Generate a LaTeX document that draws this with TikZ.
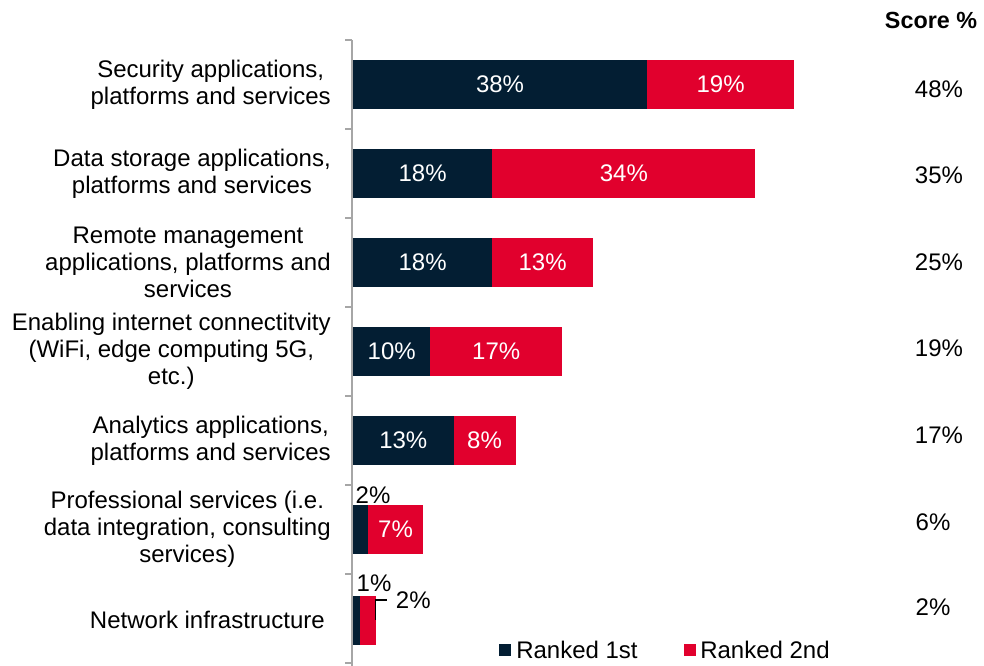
\documentclass[tikz,border=0pt]{standalone}
\usepackage{fontspec}
\setmainfont{Liberation Sans}
\definecolor{navy}{HTML}{031E33}
\definecolor{crim}{HTML}{E1002D}
\definecolor{axisgray}{HTML}{A6A6A6}
\tikzset{
  barbase/.style={rectangle, inner sep=0pt, outer sep=0pt, minimum height=36.75pt, anchor=west, text=white},
  firstbar/.style={barbase, fill=navy},
  secondbar/.style={barbase, fill=crim},
  catlabel/.style={anchor=east, align=center, inner sep=0pt},
  scorelabel/.style={inner sep=0pt},
  outlabel/.style={inner sep=0pt, text=black},
  legsq/.style={rectangle, inner sep=0pt, minimum size=9pt},
  legtext/.style={anchor=west, inner sep=0pt},
}
\begin{document}
\begin{tikzpicture}[x=0.75pt,y=-0.75pt, font=\fontsize{18}{20.3}\selectfont]
\useasboundingbox (0,0) rectangle (984,666);
% axis
\draw[axisgray, line width=1.1pt] (352,40) -- (352,666);
\foreach \k in {0,...,7}{
  \draw[axisgray, line width=1.1pt] (345,40+89*\k) -- (352,40+89*\k);
}
% main bars
\foreach \i/\a/\b in {1/38/19, 2/18/34, 3/18/13, 4/10/17, 5/13/8}{
  \pgfmathsetmacro\yc{84.5+89*(\i-1)}
  \pgfmathsetmacro\wa{\a*7.74*0.75}
  \pgfmathsetmacro\wb{\b*7.74*0.75}
  \node[firstbar, minimum width=\wa pt] (d\i) at (353,\yc) {\a\%};
  \node[secondbar, minimum width=\wb pt] (r\i) at (d\i.east) {\b\%};
}
% professional services
\node[firstbar, minimum width=11.6pt] (d6) at (353,529.5) {};
\node[secondbar, minimum width=40.6pt] (r6) at (d6.east) {7\%};
\node[outlabel] (n6a) at (373,495) {2\%};
% network infrastructure
\node[firstbar, minimum width=5.6pt] (d7) at (353,620) {};
\node[secondbar, minimum width=11.6pt] (r7) at (d7.east) {};
\node[outlabel] (n7a) at (374,583) {1\%};
\node[outlabel, anchor=west, inner xsep=6.5pt] (n7b) at (387,600) {2\%};
\coordinate (lead) at (375.5,620);
\draw[black, line width=0.9pt] (lead) |- (n7b.west);
% category labels
\node[catlabel] (c1) at (331,84.5) {Security applications,\\platforms and services};
\node[catlabel] (c2) at (331,173.5) {Data storage applications,\\platforms and services};
\node[catlabel] (c3) at (331,262.5) {Remote management\\applications, platforms and\\services};
\node[catlabel] (c4) at (331,351.5) {Enabling internet connectitvity\\(WiFi, edge computing 5G,\\etc.)};
\node[catlabel] (c5) at (331,440.5) {Analytics applications,\\platforms and services};
\node[catlabel] (c6) at (331,529.5) {Professional services (i.e.\\data integration, consulting\\services)};
\node[catlabel] (c7) at (325,620) {Network infrastructure};
% score column
\node[scorelabel, font=\fontsize{17.5}{20}\selectfont\bfseries] (sh) at (931,20) {Score \%};
\node[scorelabel] (s1) at (939,89) {48\%};
\node[scorelabel] (s2) at (939,175) {35\%};
\node[scorelabel] (s3) at (939,262) {25\%};
\node[scorelabel] (s4) at (939,348) {19\%};
\node[scorelabel] (s5) at (939,435) {17\%};
\node[scorelabel] (s6) at (933,522) {6\%};
\node[scorelabel] (s7) at (933,607) {2\%};
% legend
\node[legsq, fill=navy] (l1) at (505,649.5) {};
\node[legtext] (lt1) at (516,650) {Ranked 1st};
\node[legsq, fill=crim] (l2) at (689.5,649.5) {};
\node[legtext] (lt2) at (700,650) {Ranked 2nd};
\end{tikzpicture}
\end{document}
